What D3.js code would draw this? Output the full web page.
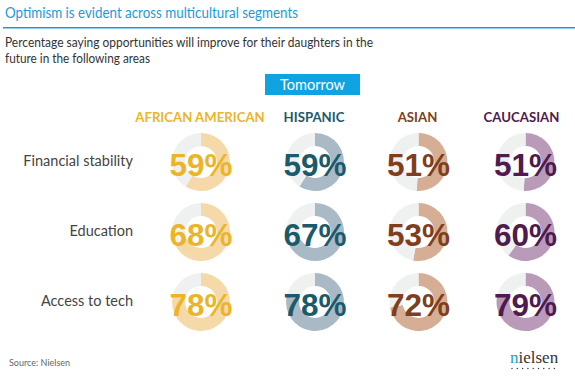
<!DOCTYPE html>
<html><head><meta charset="utf-8">
<script src="https://cdn.jsdelivr.net/npm/d3@7"></script>
<style>body{margin:0;background:#fff}svg{display:block}</style>
</head><body>
<svg id="c" width="575" height="380"></svg>
<script>
const segments = ["AFRICAN AMERICAN", "HISPANIC", "ASIAN", "CAUCASIAN"];
const areas = ["Financial stability", "Education", "Access to tech"];
const africanAmerican = [59, 68, 78];
const hispanic = [59, 67, 78];
const asian = [51, 53, 72];
const caucasian = [51, 60, 79];
const seriesValues = [africanAmerican, hispanic, asian, caucasian];
const textColors = ["#EBB52A", "#1B5A6B", "#7F3E1C", "#4F1A4D"];
const arcColors = ["#F6D9A9", "#A9B9C5", "#D5AE95", "#B99BB9"];

const svg = d3.select("#c");
const font = "Lato, 'Noto Sans', sans-serif";

svg.append("text").attr("x", 5).attr("y", 18).attr("fill", "#1B9AD7")
  .attr("font-family", font).attr("font-size", 14.5)
  .attr("textLength", 293).attr("lengthAdjust", "spacingAndGlyphs")
  .text("Optimism is evident across multicultural segments");
svg.append("rect").attr("x", 3).attr("y", 27).attr("width", 572).attr("height", 1.5).attr("fill", "#1B9AD7");
svg.append("text").attr("x", 5).attr("y", 47).attr("fill", "#333")
  .attr("font-family", font).attr("font-size", 13)
  .attr("textLength", 368).attr("lengthAdjust", "spacingAndGlyphs")
  .text("Percentage saying opportunities will improve for their daughters in the");
svg.append("text").attr("x", 5).attr("y", 63).attr("fill", "#333")
  .attr("font-family", font).attr("font-size", 13)
  .attr("textLength", 145).attr("lengthAdjust", "spacingAndGlyphs")
  .text("future in the following areas");

svg.append("rect").attr("x", 265).attr("y", 74).attr("width", 95).attr("height", 21).attr("fill", "#0FA3E2");
svg.append("text").attr("x", 312.5).attr("y", 89.5).attr("text-anchor", "middle").attr("fill", "#fff")
  .attr("font-family", font).attr("font-size", 14.5).text("Tomorrow");

const xc = {"AFRICAN AMERICAN": 201, "HISPANIC": 315, "ASIAN": 418.5, "CAUCASIAN": 525.5};
const y = d3.scalePoint().domain(areas).range([162, 302]);

segments.forEach((s, i) => {
  svg.append("text").attr("x", xc[s] - (i === 3 ? 4 : 1)).attr("y", 121.5).attr("text-anchor", "middle")
    .attr("fill", textColors[i]).attr("font-family", font).attr("font-weight", "bold")
    .attr("font-size", 13.2).text(s);
});

areas.forEach(a => {
  svg.append("text").attr("x", 133).attr("y", y(a) + 4).attr("text-anchor", "end")
    .attr("fill", "#444").attr("font-family", font).attr("font-size", 14.5).text(a);
});

const arc = d3.arc().innerRadius(16).outerRadius(29);
const pie = d3.pie().sort(null).value(d => d);

segments.forEach((s, i) => {
  seriesValues[i].forEach((v, j) => {
    const g = svg.append("g").attr("transform", `translate(${xc[s]},${y(areas[j])})`);
    const arcs = pie([v, 100 - v]);
    g.selectAll("path").data(arcs).join("path").attr("d", arc)
      .attr("fill", (d, k) => k === 0 ? arcColors[i] : "#EFF1F1");
    g.append("text").attr("x", 0).attr("y", 14).attr("text-anchor", "middle")
      .attr("fill", textColors[i]).attr("font-family", "'Liberation Sans', Arial, sans-serif")
      .attr("font-weight", "bold").attr("font-size", 31.5).text(v + "%");
  });
});

svg.append("text").attr("x", 9).attr("y", 366).attr("fill", "#666")
  .attr("font-family", font).attr("font-size", 9).text("Source: Nielsen");

const logo = svg.append("text").attr("x", 510).attr("y", 363)
  .attr("font-family", "'Liberation Serif', 'DejaVu Serif', serif").attr("font-size", 17);
logo.append("tspan").attr("fill", "#1B9AD7").text("n");
logo.append("tspan").attr("fill", "#333").text("ielsen");
d3.range(9).forEach(k => {
  svg.append("circle").attr("cx", 512 + k * 5.3).attr("cy", 368.5).attr("r", 0.7).attr("fill", "#333");
});
</script>
</body></html>
